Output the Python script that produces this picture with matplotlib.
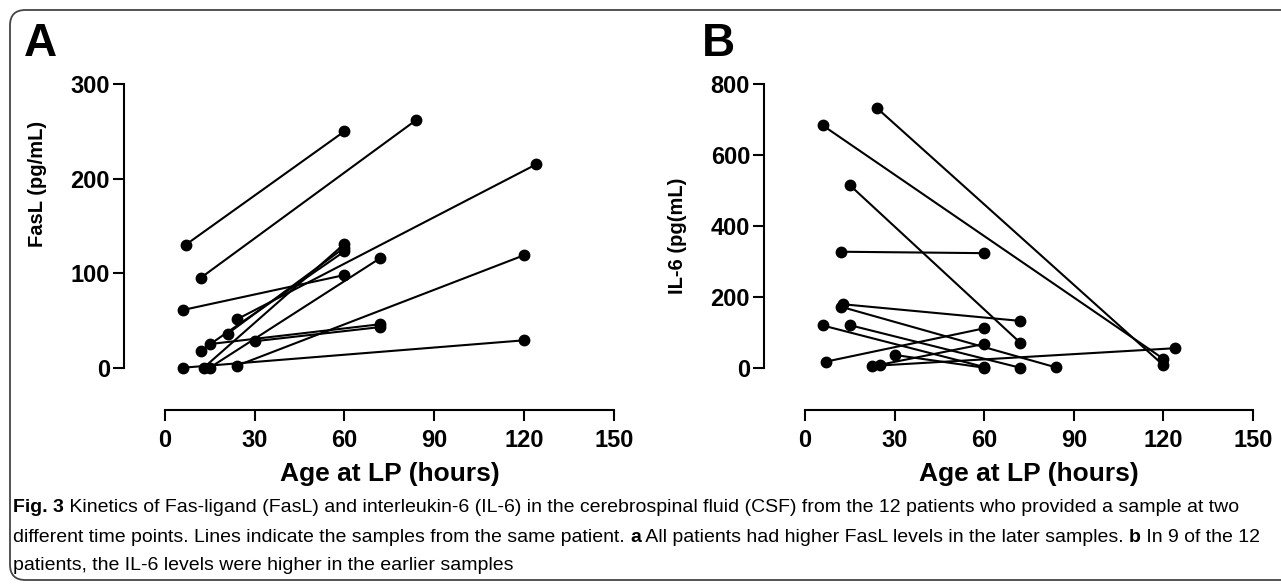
import matplotlib
matplotlib.use("Agg")
import matplotlib.pyplot as plt
from matplotlib.patches import FancyBboxPatch
from matplotlib.transforms import IdentityTransform

# FasL: one patient per index, early sample -> later sample
fas_t1 = [7, 12, 6, 24, 21, 12, 13, 15, 15, 30, 6, 24]
fas_v1 = [130, 95, 61, 51, 36, 18, 0, 0, 25, 28, 0, 2]
fas_t2 = [60, 84, 60, 124, 60, 60, 60, 72, 72, 72, 120, 120]
fas_v2 = [250, 262, 98, 215, 127, 123, 131, 116, 46, 43, 29, 119]

# IL-6
il6_t1 = [24, 6, 15, 12, 12.6, 12, 6, 15, 7, 30, 22.6, 25]
il6_v1 = [733, 683, 515, 327, 179, 172, 119, 120, 17, 36, 5, 8]
il6_t2 = [120, 120, 72, 60, 72, 84, 60, 72, 60, 60, 124, 60]
il6_v2 = [7, 25, 71, 323, 132, 1, 2, 0, 111, 0, 55, 67]

W, H = 1281, 584
fig = plt.figure(figsize=(W / 100, H / 100), dpi=100)
plt.rcParams['font.family'] = ['Liberation Sans', 'DejaVu Sans']

# rounded frame around the figure
frame = FancyBboxPatch((10 / W, 4 / H), 1.2, (H - 14) / H,
                       boxstyle="round,pad=0,rounding_size=0.012",
                       transform=fig.transFigure, fill=False,
                       edgecolor='#444444', linewidth=1.3, mutation_aspect=W / H)
fig.patches.append(frame)


def panel(left_px, right_px, xmin, ymin, ymax, yticks, ylabel, label_y, t1, v1, t2, v2):
    width = right_px - left_px
    ax = fig.add_axes([left_px / W, (H - 410) / H, width / W, (410 - 84) / H])
    for a, b, c, d in zip(t1, v1, t2, v2):
        ax.plot([a, c], [b, d], color='black', lw=1.5, marker='o', ms=7.5,
                clip_on=False, solid_capstyle='butt')
    ax.set_xlim(xmin, 150)
    ax.set_ylim(ymin, ymax)
    ax.spines['top'].set_visible(False)
    ax.spines['right'].set_visible(False)
    for s in ['left', 'bottom']:
        ax.spines[s].set_linewidth(1.5)
    ax.spines['left'].set_bounds(0, ymax)
    ax.spines['bottom'].set_bounds(0, 150)
    ax.set_xticks([0, 30, 60, 90, 120, 150])
    ax.set_yticks(yticks)
    ax.tick_params(length=8, width=1.5, labelsize=17)
    ax.tick_params(axis='x', pad=6)
    ax.tick_params(axis='y', pad=2)
    for lab in ax.get_xticklabels() + ax.get_yticklabels():
        lab.set_fontweight('bold')
    ax.set_xlabel('Age at LP (hours)', fontsize=19, fontweight='bold', va='top')
    ax.set_ylabel(ylabel, fontsize=14.5, fontweight='bold')
    # right edge of the rotated label sits 77 px left of the spine
    ax.yaxis.set_label_coords(-77 / width, (410 - label_y) / 326)
    return ax


axA = panel(124, 614, -13.6, -44.7, 300, [0, 100, 200, 300], 'FasL (pg/mL)', 184,
            fas_t1, fas_v1, fas_t2, fas_v2)
axB = panel(764, 1253, -13.7, -119.3, 800, [0, 200, 400, 600, 800], 'IL-6 (pg(mL)', 236,
            il6_t1, il6_v1, il6_t2, il6_v2)
# x labels centred under the 0-150 span
for ax, lo, hi in [(axA, 165, 614), (axB, 805, 1253)]:
    bb = ax.get_position()
    cx = ((lo + hi) / 2 - bb.x0 * W) / (bb.width * W)
    ax.xaxis.set_label_coords(cx, -52 / 326)

fig.text(40 / W, 1 - 44 / H, 'A', fontsize=33, fontweight='bold', ha='center', va='center')
fig.text(718 / W, 1 - 44 / H, 'B', fontsize=33, fontweight='bold', ha='center', va='center')

# caption with bold fragments
caption = [
    [('Fig. 3', 'bold'), (' Kinetics of Fas-ligand (FasL) and interleukin-6 (IL-6) in the cerebrospinal '
                          'fluid (CSF) from the 12 patients who provided a sample at two', 'normal')],
    [('different time points. Lines indicate the samples from the same patient. ', 'normal'),
     ('a', 'bold'), (' All patients had higher FasL levels in the later samples. ', 'normal'),
     ('b', 'bold'), (' In 9 of the 12', 'normal')],
    [('patients, the IL-6 levels were higher in the earlier samples', 'normal')],
]
renderer = fig.canvas.get_renderer()
for i, parts in enumerate(caption):
    x = 13
    y = H - (508 + 29 * i)
    for txt, w in parts:
        t = fig.text(x, y, txt, fontsize=14.0, fontweight=w,
                     transform=IdentityTransform(), va='center', ha='left')
        x += t.get_window_extent(renderer).width

fig.savefig('out.png', dpi=100)
